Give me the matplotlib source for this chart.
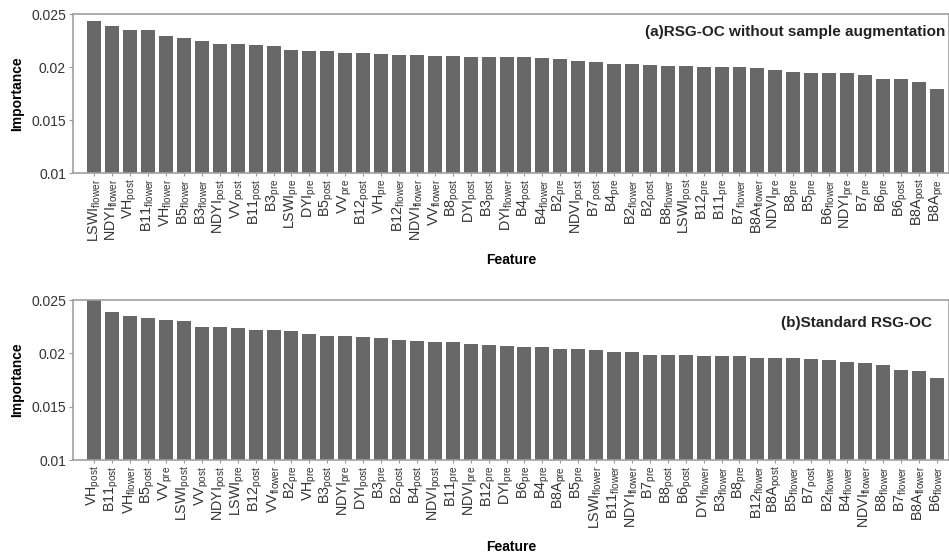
import matplotlib
matplotlib.use("Agg")
from matplotlib import pyplot as plt

plt.rcParams['font.family'] = ['Liberation Sans', 'DejaVu Sans']
plt.rcParams['mathtext.default'] = 'regular'

# (a) without sample augmentation
feat_a = ["LSWI_flower", "NDYI_flower", "VH_post", "B11_flower", "VH_flower", "B5_flower",
          "B3_flower", "NDYI_post", "VV_post", "B11_post", "B3_pre", "LSWI_pre",
          "DYI_pre", "B5_post", "VV_pre", "B12_post", "VH_pre", "B12_flower",
          "NDVI_flower", "VV_flower", "B8_post", "DYI_post", "B3_post", "DYI_flower",
          "B4_post", "B4_flower", "B2_pre", "NDVI_post", "B7_post", "B4_pre",
          "B2_flower", "B2_post", "B8_flower", "LSWI_post", "B12_pre", "B11_pre",
          "B7_flower", "B8A_flower", "NDVI_pre", "B8_pre", "B5_pre", "B6_flower",
          "NDYI_pre", "B7_pre", "B6_pre", "B6_post", "B8A_post", "B8A_pre"]
imp_a = [0.02433, 0.02385, 0.02353, 0.02353, 0.02292, 0.02273,
         0.02242, 0.02217, 0.02217, 0.02205, 0.02198, 0.02161,
         0.02151, 0.02151, 0.02136, 0.02136, 0.02127, 0.02114,
         0.02110, 0.02105, 0.02100, 0.02098, 0.02096, 0.02095,
         0.02090, 0.02086, 0.02071, 0.02058, 0.02045, 0.02033,
         0.02027, 0.02020, 0.02008, 0.02008, 0.02001, 0.02001,
         0.02001, 0.01989, 0.01970, 0.01952, 0.01945, 0.01945,
         0.01939, 0.01926, 0.01883, 0.01883, 0.01858, 0.01795]

# (b) standard
feat_b = ["VH_post", "B11_post", "VH_flower", "B5_post", "VV_pre", "LSWI_post",
          "VV_post", "NDYI_post", "LSWI_pre", "B12_post", "VV_flower", "B2_pre",
          "VH_pre", "B3_post", "NDYI_pre", "DYI_post", "B3_pre", "B2_post",
          "B4_post", "NDVI_post", "B11_pre", "NDVI_pre", "B12_pre", "DYI_pre",
          "B6_pre", "B4_pre", "B8A_pre", "B5_pre", "LSWI_flower", "B11_flower",
          "NDYI_flower", "B7_pre", "B8_post", "B6_post", "DYI_flower", "B3_flower",
          "B8_pre", "B12_flower", "B8A_post", "B5_flower", "B7_post", "B2_flower",
          "B4_flower", "NDVI_flower", "B8_flower", "B7_flower", "B8A_flower", "B6_flower"]
imp_b = [0.02500, 0.02385, 0.02347, 0.02328, 0.02316, 0.02300,
         0.02243, 0.02243, 0.02234, 0.02222, 0.02222, 0.02212,
         0.02184, 0.02165, 0.02165, 0.02149, 0.02143, 0.02127,
         0.02115, 0.02110, 0.02105, 0.02090, 0.02080, 0.02065,
         0.02060, 0.02055, 0.02045, 0.02040, 0.02033, 0.02017,
         0.02008, 0.01986, 0.01986, 0.01983, 0.01976, 0.01976,
         0.01976, 0.01958, 0.01958, 0.01958, 0.01945, 0.01939,
         0.01917, 0.01908, 0.01892, 0.01842, 0.01838, 0.01772]

titles = ["(a)RSG-OC without sample augmentation", "(b)Standard RSG-OC"]
title_pos = [(0.996, 0.885), (0.981, 0.855)]


def fmt(name):
    base, sub = name.split("_")
    return base + "$_{" + sub + "}$"


fig = plt.figure(figsize=(9.49, 5.56), dpi=100)
ax_a = fig.add_axes([73 / 949, 1 - 173 / 556, 876 / 949, 159 / 556])
ax_b = fig.add_axes([73 / 949, 1 - 460 / 556, 876 / 949, 160 / 556])

for ax, feat, imp, title, (tx, ty) in zip([ax_a, ax_b], [feat_a, feat_b], [imp_a, imp_b], titles, title_pos):
    x = list(range(len(feat)))
    ax.bar(x, imp, width=0.78, color='#686868')
    ax.set_xlim(-1.19, 47.69)
    ax.set_ylim(0.01, 0.025)
    ax.set_yticks([0.01, 0.015, 0.02, 0.025])
    ax.set_yticklabels(["0.01", "0.015", "0.02", "0.025"], fontsize=10, color='#333333')
    ax.set_xticks(x)
    ax.set_xticklabels([fmt(f) for f in feat], rotation=90, fontsize=10.3, color='#333333')
    ax.tick_params(axis='x', length=2, pad=2, color='#999999')
    ax.tick_params(axis='y', length=3, pad=2, color='#999999')
    for s in ax.spines.values():
        s.set_color('#a0a0a0')
        s.set_linewidth(1.2)
    ax.set_ylabel("Importance", fontsize=10, fontweight='bold', labelpad=5)
    ax.set_xlabel("Feature", fontsize=10, fontweight='bold', labelpad=8)
    ax.text(tx, ty, title, transform=ax.transAxes, ha='right', va='center',
            fontsize=11, fontweight='bold', color='#222222')

fig.savefig("out.png", dpi=100)
